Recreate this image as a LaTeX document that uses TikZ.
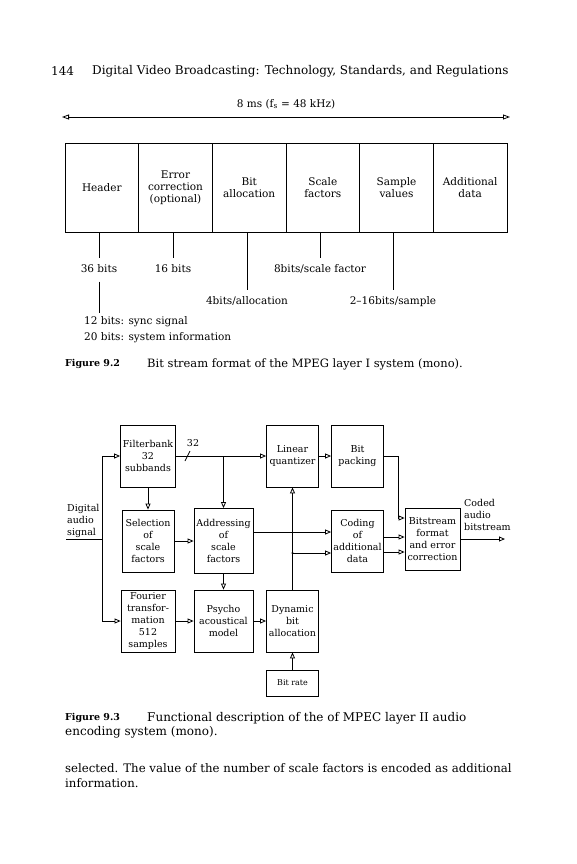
\documentclass[tikz,border=0pt]{standalone}
\usepackage{fontspec}
\setmainfont{DejaVu Serif}
\usetikzlibrary{arrows.meta}
\tikzset{
    every node/.style={font=\fontsize{10.5}{12}\selectfont, inner sep=1pt,
    	align=center}
}
\tikzset{
    cell/.style={draw, line width=0.8pt, minimum width=73.67pt,
    	minimum height=89pt},
    blk/.style={draw, line width=0.8pt, minimum width=52pt,
    	minimum height=62pt, font=\fontsize{9.5}{12}\selectfont},
    arr/.style={-{Triangle[open,length=6pt,width=5pt]}, line width=0.8pt},
    dim/.style={{Triangle[open,length=7pt,width=5pt]}-{Triangle[open,length=7pt,width=5pt]},
    	line width=0.8pt},
    tick/.style={line width=0.8pt, shorten >=5pt},
    txt/.style={anchor=west, font=\fontsize{12}{14}\selectfont},
    lab/.style={anchor=west, font=\bfseries\fontsize{9.5}{12}\selectfont}
}

\begin{document}
\begin{tikzpicture}[x=1pt,y=-1pt]
	\useasboundingbox (0,0) rectangle (576,864);
	% page head
	\node (pg) [txt] at (50,71) {144};
	\node (rh) [txt] at (91,71) {Digital Video Broadcasting: Technology, Standards, and Regulations};
	
	% figure 9.2
	\coordinate (tl) at (62,117);
	\coordinate (tr) at (510,117);
	\draw[dim] (tl) -- (tr);
	\node (dur) at (286,104) {8 ms (f\textsubscript{s} = 48 kHz)};
	\node (hdr) [cell] at (101.8,187.5) {Header};
	\node (err) [cell] at (175.5,187.5) {Error\\correction\\(optional)};
	\node (bal) [cell] at (249.2,187.5) {Bit\\allocation};
	\node (scf) [cell] at (322.8,187.5) {Scale\\factors};
	\node (smp) [cell] at (396.5,187.5) {Sample\\values};
	\node (add) [cell] at (470.2,187.5) {Additional\\data};
	
	\node (b36) [anchor=north] at (99,263) {36 bits};
	\node (b16) [anchor=north] at (173,263) {16 bits};
	\node (b8) [anchor=north] at (320,263) {8bits/scale factor};
	\node (b4) [anchor=north] at (247,295) {4bits/allocation};
	\node (b2) [anchor=north] at (393,295) {2--16bits/sample};
	\node (sync) [anchor=north west, align=left,
		font=\fontsize{10.5}{16.5}\selectfont] at (83,315)
		{12 bits: sync signal\\20 bits: system information};
	
	\draw[tick] (b36.north |- hdr.south) -- (b36.north);
	\draw[tick] (b16.north |- hdr.south) -- (b16.north);
	\draw[tick] (b4.north |- hdr.south) -- (b4.north);
	\draw[tick] (b8.north |- hdr.south) -- (b8.north);
	\draw[tick] (b2.north |- hdr.south) -- (b2.north);
	\draw[tick, shorten <=8pt, shorten >=2pt] (b36.south) -- (b36.south |- sync.north);
	
	\node (c92) [lab] at (64,364) {Figure 9.2};
	\node (c92t) [txt, font=\fontsize{11.5}{14}\selectfont] at (146,364)
		{Bit stream format of the MPEG layer I system (mono).};
	
	% figure 9.3
	\node (fb) [blk, minimum width=55pt] at (148,456) {Filterbank\\32\\subbands};
	\node (sel) [blk] at (148,541) {Selection\\of\\scale\\factors};
	\node (addr) [blk, minimum width=59pt, minimum height=65pt] at (223.5,541)
		{Addressing\\of\\scale\\factors};
	\node (four) [blk, minimum width=54pt] at (148,621)
		{Fourier\\transfor-\\mation\\512\\samples};
	\node (psy) [blk, minimum width=59pt] at (223.5,621) {Psycho\\acoustical\\model};
	\node (dyn) [blk] at (292.5,621) {Dynamic\\bit\\allocation};
	\node (lq) [blk] at (292.5,456) {Linear\\quantizer};
	\node (bp) [blk] at (357.5,456) {Bit\\packing};
	\node (cod) [blk] at (357.5,541) {Coding\\of\\additional\\data};
	\node (bs) [blk, minimum width=55pt] at (432.5,539)
		{Bitstream\\format\\and error\\correction};
	\node (rate) [blk, minimum height=26pt, font=\fontsize{8}{10}\selectfont]
		at (292.5,683) {Bit rate};
	\node (dig) [anchor=south west, align=left, font=\fontsize{9.5}{12}\selectfont]
		at (66,539) {Digital\\audio\\signal};
	\node (cab) [anchor=south west, align=left, font=\fontsize{9.5}{12}\selectfont]
		at (463,532) {Coded\\audio\\bitstream};
	\node (n32) [font=\fontsize{9.5}{12}\selectfont] at (193,443) {32};
	
	\coordinate (in) at (102,539);
	\coordinate (jn) at (292.5,553);
	\coordinate (out) at (505,539);
	
	\draw[line width=0.8pt] (dig.south west) -- (in);
	\draw[arr] (in) |- (fb.west);
	\draw[arr] (in) |- (four.west);
	\draw[arr] (fb) edge (sel); \draw[arr] (fb) edge (lq);
	\draw[arr] (addr.north |- fb.east) -- (addr.north);
	\draw[line width=0.8pt] (185,461) -- (190,451);
	\draw[arr] (sel) edge (addr); \draw[arr] (addr) edge (psy);
	\draw[arr] (four) edge (psy); \draw[arr] (psy) edge (dyn);
	\draw[arr] (dyn) edge (lq); \draw[arr] (rate) edge (dyn);
	\draw[arr] (lq) edge (bp);
	\draw[arr] ([yshift=9pt]addr.east) -- ([yshift=9pt]addr.east -| cod.west);
	\fill (jn) circle (1.2pt);
	\draw[arr] (jn) -- (jn -| cod.west);
	\draw[arr] ([yshift=4pt]cod.east) -- ([yshift=4pt]cod.east -| bs.west);
	\draw[arr] ([yshift=-11pt]cod.east) -- ([yshift=-11pt]cod.east -| bs.west);
	\draw[arr] (bp.east) -- ++(14,0) |- ([yshift=21pt]bs.west);
	\draw[arr] (bs.east) -- (out);
	
	\node (c93) [lab] at (64,718) {Figure 9.3};
	\node (c93t) [txt] at (146,718) {Functional description of the of MPEC layer II audio};
	\node (c93u) [txt] at (64,732) {encoding system (mono).};
	\node (bd1) [txt, font=\fontsize{11.75}{14}\selectfont] at (64,768)
		{selected. The value of the number of scale factors is encoded as additional};
	\node (bd2) [txt, font=\fontsize{11.75}{14}\selectfont] at (64,783) {information.};
\end{tikzpicture}
\end{document}
